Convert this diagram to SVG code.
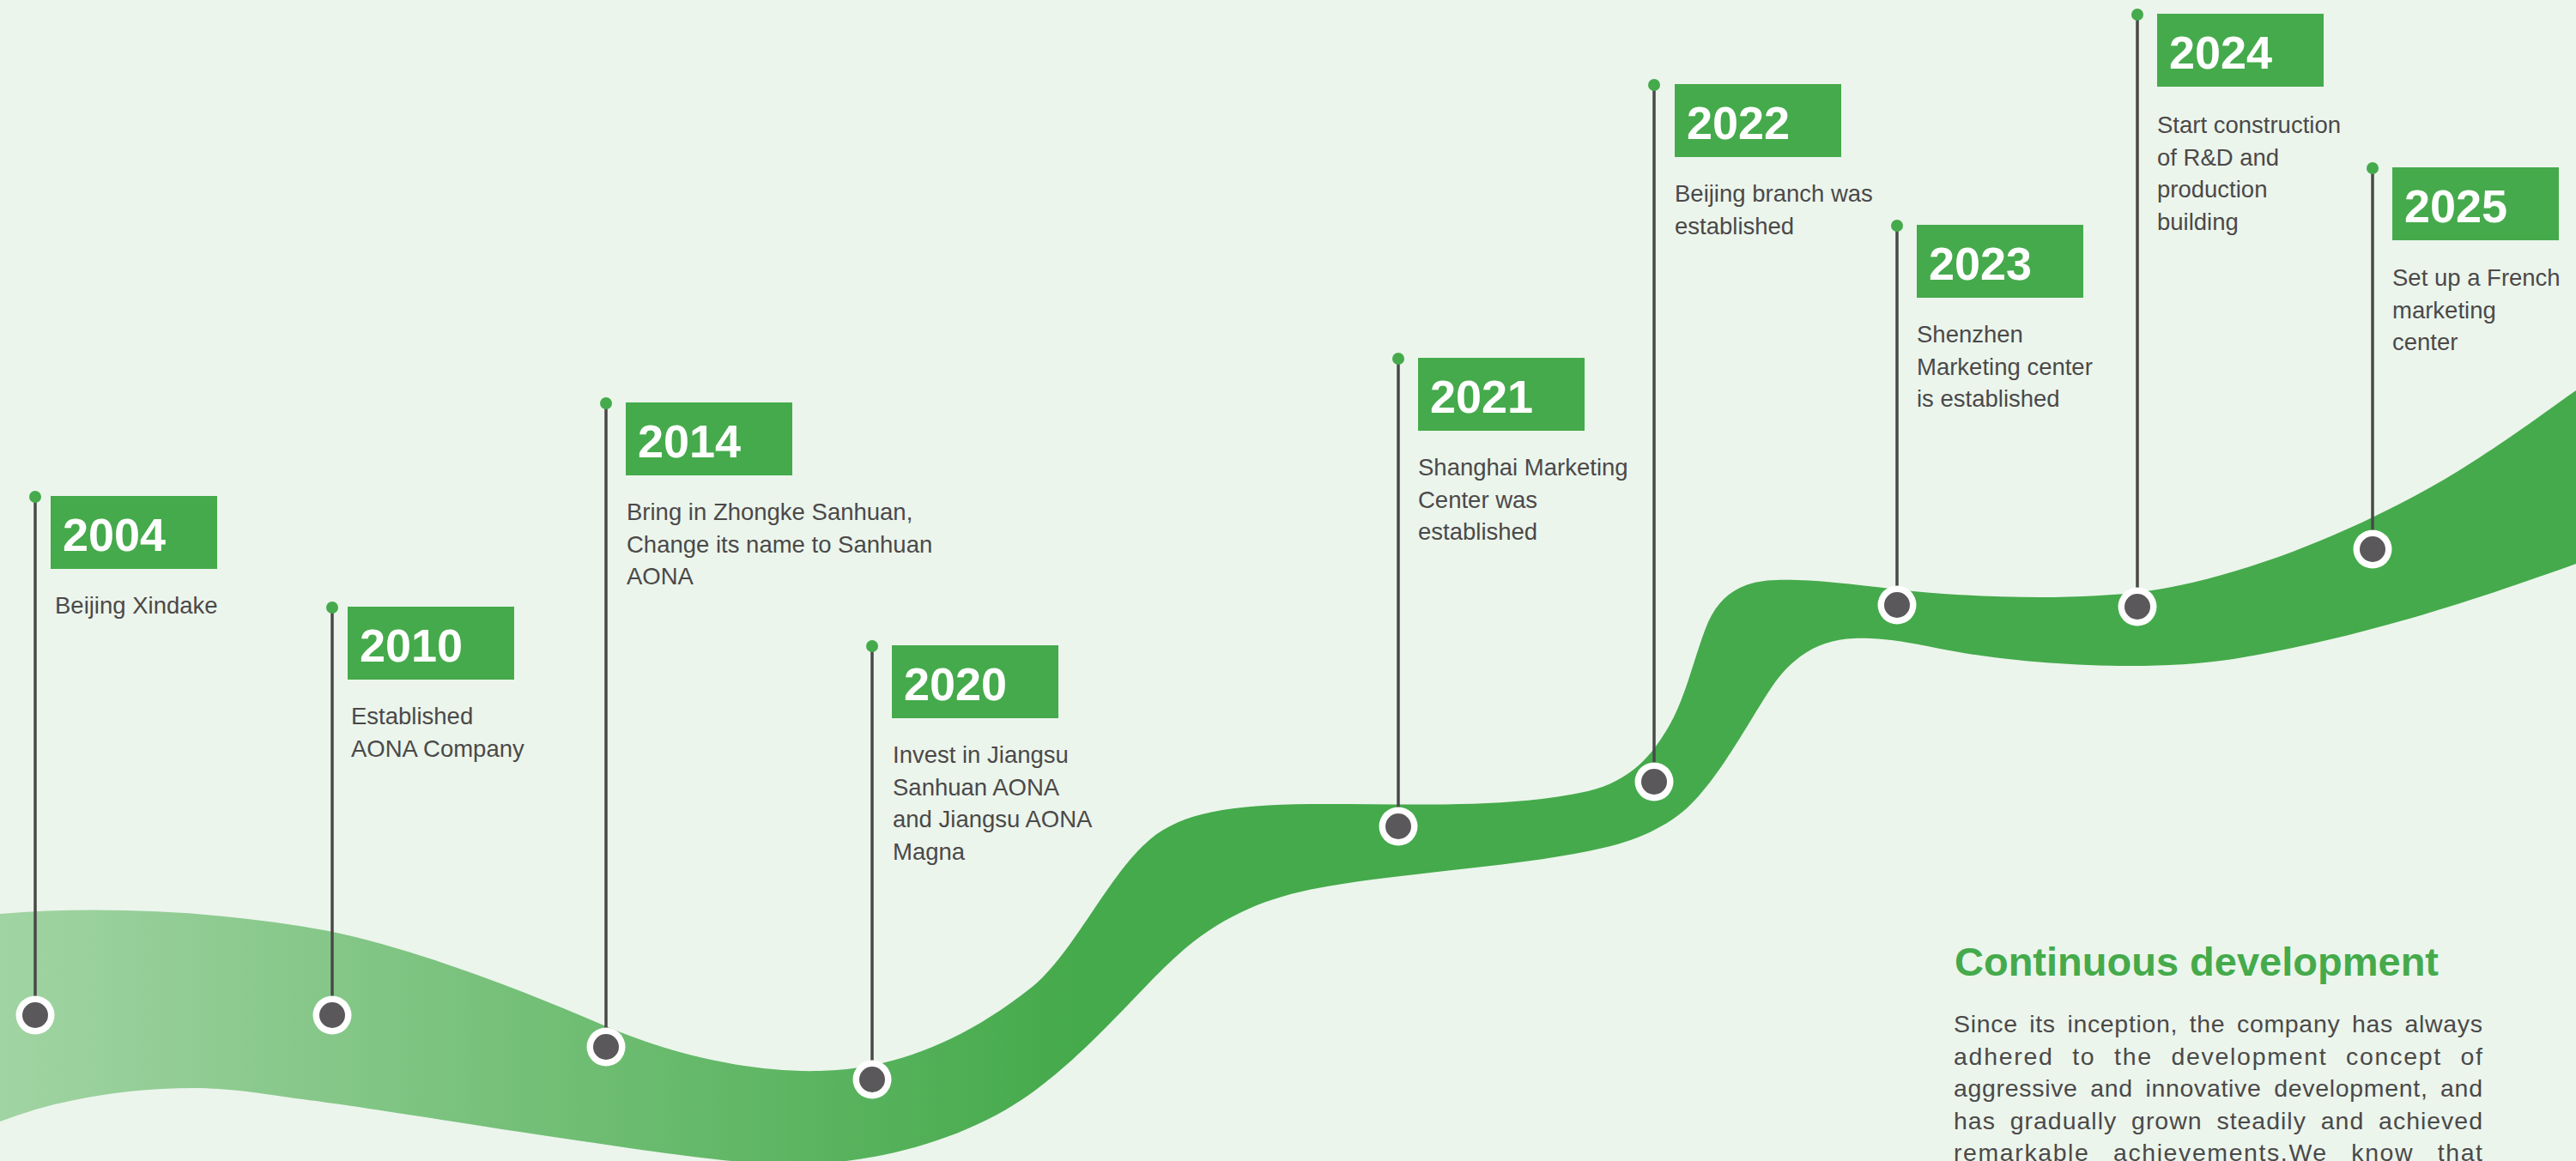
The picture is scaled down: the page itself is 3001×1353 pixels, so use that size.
<svg xmlns="http://www.w3.org/2000/svg" width="3001" height="1353" viewBox="0 0 3001 1353">
  <defs>
    <linearGradient id="ribbonFill" gradientUnits="userSpaceOnUse" x1="0" y1="0" x2="1250" y2="0">
      <stop offset="0" stop-color="#a1d4a3"/>
      <stop offset="1" stop-color="#45aa4b"/>
    </linearGradient>
    <style>
      .box{fill:#45aa4b}
      .year{font-family:"Liberation Sans",Arial,sans-serif;font-weight:bold;font-size:54px;fill:#ffffff}
      .desc{font-family:"Liberation Sans",Arial,sans-serif;font-size:27.5px;fill:#4b4949}
      .pin{stroke:#4a4848;stroke-width:3.5;fill:none}
      .dot{fill:#45aa4b}
      .ring{fill:#ffffff}
      .core{fill:#5a585a}
      .title{font-family:"Liberation Sans",Arial,sans-serif;font-weight:bold;font-size:47px;fill:#45aa4b}
      .para{font-family:"Liberation Sans",Arial,sans-serif;font-size:28.5px;fill:#4b4949}
    </style>
  </defs>

  <!-- page background -->
  <rect x="0" y="0" width="3001" height="1353" fill="#ebf5ec"/>

  <!-- rising ribbon -->
  <g id="ribbon">
    <path fill="url(#ribbonFill)" d="M0,1065 C120,1055 260,1062 383,1085 C480,1105 600,1150 706,1196 C790,1232 880,1250 955,1248 C1040,1246 1120,1215 1200,1152 C1250,1113 1290,1020 1340,978 C1380,945 1440,937 1544,937 C1650,937 1760,942 1850,922 C1900,910 1925,880 1945,845 C1965,810 1975,760 1990,725 C2005,692 2030,677 2069,676 C2110,675 2150,680 2210,687 C2300,697 2420,700 2500,689 C2620,672 2760,612 2862,550 C2920,514 2960,484 3001,455 L3001,657 C2900,693 2760,742 2602,768 C2500,784 2350,774 2260,756 C2215,747 2190,743 2160,744 C2120,745 2090,765 2068,795 C2040,835 2005,905 1965,942 C1935,968 1900,982 1850,992 C1750,1012 1620,1018 1530,1036 C1470,1048 1420,1070 1372,1113 C1330,1150 1270,1225 1200,1275 C1130,1325 1030,1355 930,1357 C860,1358 760,1342 612,1320 C500,1303 410,1288 344,1280 C300,1273 260,1268 226,1268 C150,1268 70,1280 0,1307 Z"/>
  </g>

  <!-- pins from flags down to the ribbon -->
  <g id="connectors">
    <line class="pin" x1="41" y1="579" x2="41" y2="1161"/>
    <line class="pin" x1="387" y1="708" x2="387" y2="1161"/>
    <line class="pin" x1="706" y1="470" x2="706" y2="1198"/>
    <line class="pin" x1="1016" y1="753" x2="1016" y2="1236"/>
    <line class="pin" x1="1629" y1="418" x2="1629" y2="941"/>
    <line class="pin" x1="1927" y1="99" x2="1927" y2="889"/>
    <line class="pin" x1="2210" y1="263" x2="2210" y2="683"/>
    <line class="pin" x1="2490" y1="17" x2="2490" y2="685"/>
    <line class="pin" x1="2764" y1="196" x2="2764" y2="618"/>
  </g>

  <g id="m2004">
    <circle class="dot" cx="41" cy="579" r="7"/>
    <rect class="box" x="59" y="578" width="194" height="85"/>
    <text class="year" x="73" y="642">2004</text>
    <text class="desc" x="64" y="715">Beijing Xindake</text>
    <circle class="ring" cx="41" cy="1183" r="22.5"/>
    <circle class="core" cx="41" cy="1183" r="15"/>
  </g>

  <g id="m2010">
    <circle class="dot" cx="387" cy="708" r="7"/>
    <rect class="box" x="405" y="707" width="194" height="85"/>
    <text class="year" x="419" y="771">2010</text>
    <text class="desc" x="409" y="844"><tspan x="409">Established</tspan><tspan x="409" dy="37.5">AONA Company</tspan></text>
    <circle class="ring" cx="387" cy="1183" r="22.5"/>
    <circle class="core" cx="387" cy="1183" r="15"/>
  </g>

  <g id="m2014">
    <circle class="dot" cx="706" cy="470" r="7"/>
    <rect class="box" x="729" y="469" width="194" height="85"/>
    <text class="year" x="743" y="533">2014</text>
    <text class="desc" x="730" y="606"><tspan x="730">Bring in Zhongke Sanhuan,</tspan><tspan x="730" dy="37.5">Change its name to Sanhuan</tspan><tspan x="730" dy="37.5">AONA</tspan></text>
    <circle class="ring" cx="706" cy="1220" r="22.5"/>
    <circle class="core" cx="706" cy="1220" r="15"/>
  </g>

  <g id="m2020">
    <circle class="dot" cx="1016" cy="753" r="7"/>
    <rect class="box" x="1039" y="752" width="194" height="85"/>
    <text class="year" x="1053" y="816">2020</text>
    <text class="desc" x="1040" y="889"><tspan x="1040">Invest in Jiangsu</tspan><tspan x="1040" dy="37.5">Sanhuan AONA</tspan><tspan x="1040" dy="37.5">and Jiangsu AONA</tspan><tspan x="1040" dy="37.5">Magna</tspan></text>
    <circle class="ring" cx="1016" cy="1258" r="22.5"/>
    <circle class="core" cx="1016" cy="1258" r="15"/>
  </g>

  <g id="m2021">
    <circle class="dot" cx="1629" cy="418" r="7"/>
    <rect class="box" x="1652" y="417" width="194" height="85"/>
    <text class="year" x="1666" y="481">2021</text>
    <text class="desc" x="1652" y="554"><tspan x="1652">Shanghai Marketing</tspan><tspan x="1652" dy="37.5">Center was</tspan><tspan x="1652" dy="37.5">established</tspan></text>
    <circle class="ring" cx="1629" cy="963" r="22.5"/>
    <circle class="core" cx="1629" cy="963" r="15"/>
  </g>

  <g id="m2022">
    <circle class="dot" cx="1927" cy="99" r="7"/>
    <rect class="box" x="1951" y="98" width="194" height="85"/>
    <text class="year" x="1965" y="162">2022</text>
    <text class="desc" x="1951" y="235"><tspan x="1951">Beijing branch was</tspan><tspan x="1951" dy="37.5">established</tspan></text>
    <circle class="ring" cx="1927" cy="911" r="22.5"/>
    <circle class="core" cx="1927" cy="911" r="15"/>
  </g>

  <g id="m2023">
    <circle class="dot" cx="2210" cy="263" r="7"/>
    <rect class="box" x="2233" y="262" width="194" height="85"/>
    <text class="year" x="2247" y="326">2023</text>
    <text class="desc" x="2233" y="399"><tspan x="2233">Shenzhen</tspan><tspan x="2233" dy="37.5">Marketing center</tspan><tspan x="2233" dy="37.5">is established</tspan></text>
    <circle class="ring" cx="2210" cy="705" r="22.5"/>
    <circle class="core" cx="2210" cy="705" r="15"/>
  </g>

  <g id="m2024">
    <circle class="dot" cx="2490" cy="17" r="7"/>
    <rect class="box" x="2513" y="16" width="194" height="85"/>
    <text class="year" x="2527" y="80">2024</text>
    <text class="desc" x="2513" y="155"><tspan x="2513">Start construction</tspan><tspan x="2513" dy="37.5">of R&amp;D and</tspan><tspan x="2513" dy="37.5">production</tspan><tspan x="2513" dy="37.5">building</tspan></text>
    <circle class="ring" cx="2490" cy="707" r="22.5"/>
    <circle class="core" cx="2490" cy="707" r="15"/>
  </g>

  <g id="m2025">
    <circle class="dot" cx="2764" cy="196" r="7"/>
    <rect class="box" x="2787" y="195" width="194" height="85"/>
    <text class="year" x="2801" y="259">2025</text>
    <text class="desc" x="2787" y="333"><tspan x="2787">Set up a French</tspan><tspan x="2787" dy="37.5">marketing</tspan><tspan x="2787" dy="37.5">center</tspan></text>
    <circle class="ring" cx="2764" cy="640" r="22.5"/>
    <circle class="core" cx="2764" cy="640" r="15"/>
  </g>

  <!-- summary block, justified lines -->
  <g id="summary">
    <text class="title" x="2277" y="1137">Continuous development</text>
    <text class="para" x="2276" y="1203" textLength="616" lengthAdjust="spacing" style="word-spacing:5px">Since its inception, the company has always</text>
    <text class="para" x="2276" y="1241" textLength="616" lengthAdjust="spacing" style="word-spacing:12px">adhered to the development concept of</text>
    <text class="para" x="2276" y="1278" textLength="616" lengthAdjust="spacing" style="word-spacing:6px">aggressive and innovative development, and</text>
    <text class="para" x="2276" y="1316" textLength="616" lengthAdjust="spacing" style="word-spacing:8px">has gradually grown steadily and achieved</text>
    <text class="para" x="2276" y="1353" textLength="616" lengthAdjust="spacing" style="word-spacing:18px">remarkable achievements.We know that</text>
  </g>
</svg>
